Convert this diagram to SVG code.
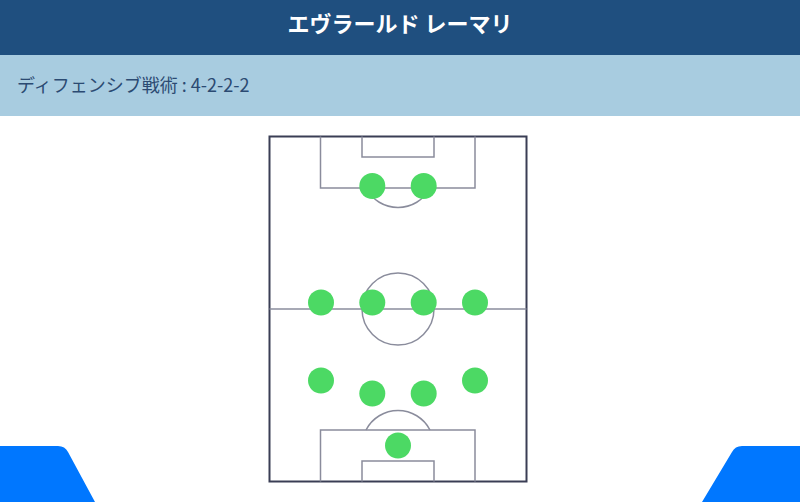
<svg xmlns="http://www.w3.org/2000/svg" width="800" height="502" viewBox="0 0 800 502">
<style>
.title{font-family:"Noto Sans CJK JP","Noto Sans",sans-serif;font-weight:700;font-size:22px;fill:#ffffff}
.sub{font-family:"Noto Sans CJK JP","Noto Sans",sans-serif;font-size:18px;fill:#2b4a72}
.outer{fill:none;stroke:#3a3e55;stroke-width:2}
.line{fill:none;stroke:#8a8c9c;stroke-width:1.5}
.p{fill:#4cd964}
.tab{fill:#0077ff}
</style>
<rect x="0" y="0" width="800" height="502" fill="#ffffff"/>
<g id="header">
<rect x="0" y="0" width="800" height="55" fill="#1f4f7f"/>
<text class="title" x="400" y="32" text-anchor="middle">エヴラールド レーマリ</text>
</g>
<g id="subheader">
<rect x="0" y="55" width="800" height="61" fill="#a8cce0"/>
<text class="sub" x="17" y="92">ディフェンシブ戦術 : 4-2-2-2</text>
</g>
<g id="pitch">
<rect class="outer" x="269.5" y="136.5" width="257" height="345"/>
<line class="line" x1="269.5" y1="309" x2="526.5" y2="309"/>
<circle class="line" cx="398" cy="309" r="36"/>
<polyline class="line" points="320.5,136.5 320.5,188 475,188 475,136.5"/>
<polyline class="line" points="362,136.5 362,157 434,157 434,136.5"/>
<path class="line" d="M366,188 A36,36 0 0 0 430,188"/>
<polyline class="line" points="320.5,481.5 320.5,430 475,430 475,481.5"/>
<polyline class="line" points="362,481.5 362,461 434,461 434,481.5"/>
<path class="line" d="M366,430 A36,36 0 0 1 430,430"/>
</g>
<g id="players">
<circle class="p" cx="372.3" cy="186" r="13"/>
<circle class="p" cx="423.7" cy="186" r="13"/>
<circle class="p" cx="321" cy="302.5" r="13"/>
<circle class="p" cx="372.3" cy="302.5" r="13"/>
<circle class="p" cx="423.7" cy="302.5" r="13"/>
<circle class="p" cx="475" cy="302.5" r="13"/>
<circle class="p" cx="321" cy="380.5" r="13"/>
<circle class="p" cx="372.3" cy="393.5" r="13"/>
<circle class="p" cx="423.7" cy="393.5" r="13"/>
<circle class="p" cx="475" cy="380.5" r="13"/>
<circle class="p" cx="398" cy="445.5" r="13"/>
</g>
<g id="tabs">
<path class="tab" d="M0,446 L58,446 Q65,446 68,452 L95,502 L0,502 Z"/>
<path class="tab" d="M800,446 L742,446 Q735,446 732,452 L702,502 L800,502 Z"/>
</g>
</svg>
